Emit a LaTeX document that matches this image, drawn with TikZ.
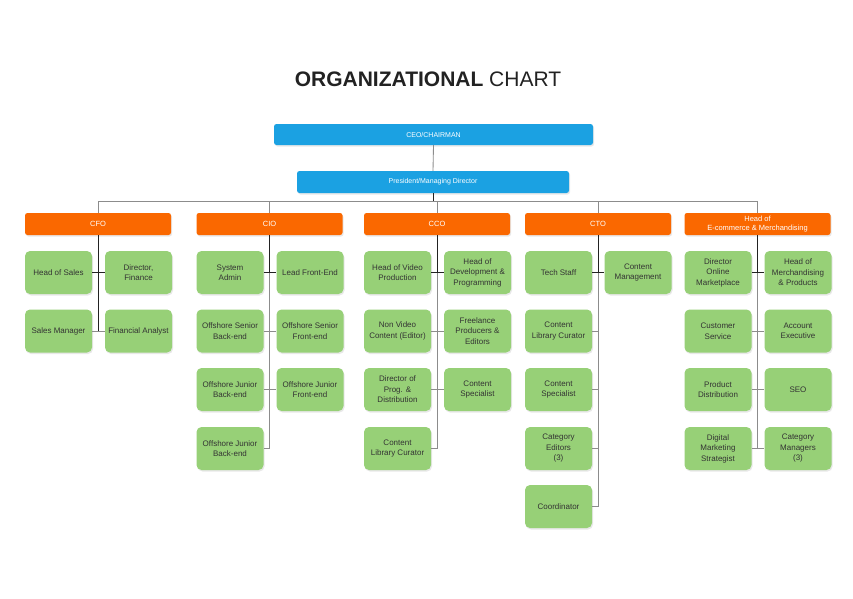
\documentclass[tikz,border=0pt]{standalone}
\usepackage{fontspec}
\setmainfont{Liberation Sans}
\usetikzlibrary{shadows}
\definecolor{cblue}{HTML}{1BA1E2}
\definecolor{corange}{HTML}{FA6800}
\definecolor{cgreen}{HTML}{97D077}
\definecolor{ctext}{HTML}{333333}
\definecolor{cline}{HTML}{8C8C8C}
\definecolor{cdark}{HTML}{222222}
\begin{document}
\begin{tikzpicture}[x=1pt,y=-1pt,
  boxshadow/.style={drop shadow={opacity=0.18,shadow xshift=1pt,shadow yshift=-1.5pt}},
  topbox/.style={fill=cblue,rounded corners=2.5pt,text=white,font=\fontsize{7}{8}\selectfont,inner sep=0pt,boxshadow},
  headbox/.style={fill=corange,rounded corners=2.5pt,text=white,font=\fontsize{7.5}{8.5}\selectfont,minimum width=146pt,minimum height=22pt,inner sep=0pt,align=center,boxshadow},
  staffbox/.style={fill=cgreen,rounded corners=5pt,text=ctext,font=\fontsize{8}{10.5}\selectfont,minimum width=67pt,minimum height=43pt,inner sep=1pt,align=center,boxshadow},
  grayline/.style={draw=cline,line width=0.85pt},
  darkline/.style={draw=cdark,line width=0.85pt}]
\useasboundingbox (0,0) rectangle (853,598);
\fill[white] (0,0) rectangle (853,598);

\node[text=cdark] (title) at (428,79) {\fontsize{21}{25}\selectfont\textbf{ORGANIZATIONAL} CHART};

\node[topbox,minimum width=319pt,minimum height=21pt] (ceo) at (433.5,134.5) {CEO/CHAIRMAN};
\node[topbox,minimum width=272pt,minimum height=22pt] (pres) at (433,182) {President/Managing Director};

\node[headbox] (cfo) at (98,224) {CFO};
\node[headbox] (cio) at (269.5,224) {CIO};
\node[headbox] (cco) at (437,224) {CCO};
\node[headbox] (cto) at (598,224) {CTO};
\node[headbox] (hoe) at (757.5,224) {Head of\\E-commerce \& Merchandising};

% CFO column
\node[staffbox] (f1) at (58.5,272.5) {Head of Sales};
\node[staffbox] (f2) at (138.5,272.5) {Director,\\Finance};
\node[staffbox] (f3) at (58.5,331) {Sales Manager};
\node[staffbox] (f4) at (138.5,331) {Financial Analyst};

% CIO column
\node[staffbox] (i1) at (230,272.5) {System\\Admin};
\node[staffbox] (i2) at (310,272.5) {Lead Front-End};
\node[staffbox] (i3) at (230,331) {Offshore Senior\\Back-end};
\node[staffbox] (i4) at (310,331) {Offshore Senior\\Front-end};
\node[staffbox] (i5) at (230,389.5) {Offshore Junior\\Back-end};
\node[staffbox] (i6) at (310,389.5) {Offshore Junior\\Front-end};
\node[staffbox] (i7) at (230,448.5) {Offshore Junior\\Back-end};

% CCO column
\node[staffbox] (c1) at (397.5,272.5) {Head of Video\\Production};
\node[staffbox] (c2) at (477.5,272.5) {Head of\\Development \&\\Programming};
\node[staffbox] (c3) at (397.5,331) {Non Video\\Content (Editor)};
\node[staffbox] (c4) at (477.5,331) {Freelance\\Producers \&\\Editors};
\node[staffbox] (c5) at (397.5,389.5) {Director of\\Prog. \&\\Distribution};
\node[staffbox] (c6) at (477.5,389.5) {Content\\Specialist};
\node[staffbox] (c7) at (397.5,448.5) {Content\\Library Curator};

% CTO column
\node[staffbox] (t1) at (558.5,272.5) {Tech Staff};
\node[staffbox] (t2) at (638,272.5) {Content\\Management};
\node[staffbox] (t3) at (558.5,331) {Content\\Library Curator};
\node[staffbox] (t4) at (558.5,389.5) {Content\\Specialist};
\node[staffbox] (t5) at (558.5,448.5) {Category\\Editors\\(3)};
\node[staffbox] (t6) at (558.5,506.5) {Coordinator};

% Head of E-commerce column
\node[staffbox] (e1) at (718,272.5) {Director\\Online\\Marketplace};
\node[staffbox] (e2) at (798,272.5) {Head of\\Merchandising\\\& Products};
\node[staffbox] (e3) at (718,331) {Customer\\Service};
\node[staffbox] (e4) at (798,331) {Account\\Executive};
\node[staffbox] (e5) at (718,389.5) {Product\\Distribution};
\node[staffbox] (e6) at (798,389.5) {SEO};
\node[staffbox] (e7) at (718,448.5) {Digital\\Marketing\\Strategist};
\node[staffbox] (e8) at (798,448.5) {Category\\Managers\\(3)};

% top connectors
\coordinate (bus) at (433,201);
\draw[grayline] (ceo.south) -- (pres.north);
\draw[darkline] (pres.south) -- (pres.south |- bus);
\draw[grayline] (cfo.north) |- (hoe.north |- bus) -- (hoe.north);
\draw[grayline] (cio.north) -- (cio.north |- bus);
\draw[grayline] (cco.north) -- (cco.north |- bus);
\draw[grayline] (cto.north) -- (cto.north |- bus);

% CFO connectors
\draw[darkline] (cfo.south) -- (cfo.south |- f3.east);
\draw[darkline] (f1.east) -- (f2.west);
\draw[grayline] (f3.east) -- (f4.west);

% CIO connectors
\draw[darkline] (cio.south) -- (cio.south |- i1.east);
\draw[grayline] (cio.south |- i1.east) -- (cio.south |- i7.east);
\draw[darkline] (i1.east) -- (i2.west);
\draw[grayline] (i3.east) -- (i4.west);
\draw[grayline] (i5.east) -- (i6.west);
\draw[grayline] (i7.east) -- (i7.east -| cio.south);

% CCO connectors
\draw[darkline] (cco.south) -- (cco.south |- c1.east);
\draw[grayline] (cco.south |- c1.east) -- (cco.south |- c7.east);
\draw[darkline] (c1.east) -- (c2.west);
\draw[grayline] (c3.east) -- (c4.west);
\draw[grayline] (c5.east) -- (c6.west);
\draw[grayline] (c7.east) -- (c7.east -| cco.south);

% CTO connectors
\draw[darkline] (cto.south) -- (cto.south |- t1.east);
\draw[grayline] (cto.south |- t1.east) -- (cto.south |- t6.east);
\draw[darkline] (t1.east) -- (t2.west);
\draw[grayline] (t3.east) -- (t3.east -| cto.south);
\draw[grayline] (t4.east) -- (t4.east -| cto.south);
\draw[grayline] (t5.east) -- (t5.east -| cto.south);
\draw[grayline] (t6.east) -- (t6.east -| cto.south);

% HoE connectors
\draw[darkline] (hoe.south) -- (hoe.south |- e1.east);
\draw[grayline] (hoe.south |- e1.east) -- (hoe.south |- e7.east);
\draw[darkline] (e1.east) -- (e2.west);
\draw[grayline] (e3.east) -- (e4.west);
\draw[grayline] (e5.east) -- (e6.west);
\draw[grayline] (e7.east) -- (e8.west);
\end{tikzpicture}
\end{document}
